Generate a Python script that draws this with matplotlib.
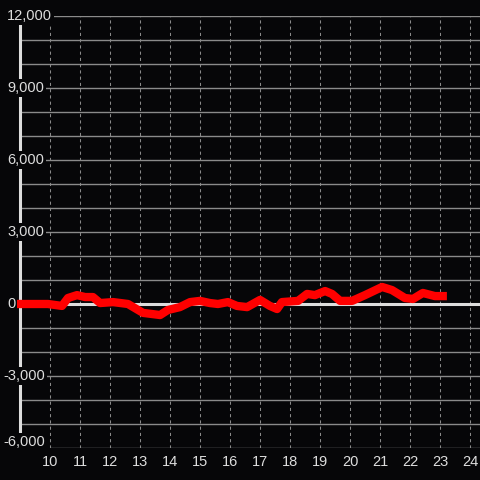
import matplotlib
matplotlib.use("Agg")
import matplotlib.pyplot as plt

# ---- data ----
hours = [8.85, 9.93, 10.4, 10.6, 10.9, 11.17, 11.43, 11.67, 12.1, 12.6, 13.1, 13.67,
         13.93, 14.33, 14.67, 15.0, 15.33, 15.6, 15.93, 16.23, 16.57, 17.0, 17.33,
         17.57, 17.73, 18.27, 18.57, 18.83, 19.17, 19.4, 19.67, 20.07, 20.5, 21.07,
         21.4, 21.83, 22.1, 22.43, 22.83, 23.23]
values = [0, 0, -80, 250, 370, 290, 290, 40, 80, 0, -370, -460,
          -250, -130, 80, 130, 40, 0, 80, -80, -130, 170, -80,
          -210, 80, 130, 420, 370, 540, 420, 130, 130, 370, 710,
          580, 250, 210, 460, 330, 330]
x_ticks = list(range(10, 25))
y_label_values = [12000, 9000, 6000, 3000, 0, -3000, -6000]
y_grid_values = list(range(-6000, 12001, 1000))

BG = "#060608"
GRID = "#8a8a8a"
TXT = "#dddddd"
FONT = "Liberation Sans"

fig = plt.figure(figsize=(4.8, 4.8), dpi=100, facecolor=BG)
ax = fig.add_axes([0, 32 / 480, 1, 432 / 480])
ax.set_facecolor(BG)
x0 = 10 - 50 / 30
x1 = 10 + 430 / 30
ax.set_xlim(x0, x1)
ax.set_ylim(-6000, 12000)
for s in ax.spines.values():
    s.set_visible(False)

# vertical dotted gridlines
ax.vlines(x_ticks, -6000, 12000, colors=GRID, linewidth=0.75,
          linestyles=(0, (3, 3)), zorder=1)
# horizontal gridlines
for v in y_grid_values:
    start = 10 if v == -6000 else 9.0
    ax.hlines(v, start, x1, colors=GRID, linewidth=1.0, zorder=1)
# zero line and left axis line
ax.hlines(0, 9.0, x1, colors=TXT, linewidth=2.2, zorder=2)
ax.vlines(9.0, -6000, 12000, colors=TXT, linewidth=2.2, zorder=2)

# data line
ax.plot(hours, values, color="#ff0000", linewidth=6, solid_capstyle="butt",
        solid_joinstyle="round", zorder=3)

# y labels with background boxes
for v in y_label_values:
    px = 3 if v < 0 else 7
    yv = v + 250 if v == -6000 else v
    ax.text(x0 + px / 30, yv, f"{v:,}", ha="left", va="center", color=TXT,
            fontsize=10.5, family=FONT, zorder=5,
            bbox=dict(facecolor=BG, edgecolor="none", pad=1.5))

# x tick labels
ax.set_xticks(x_ticks)
ax.set_xticklabels([str(t) for t in x_ticks], family=FONT, fontsize=10.5, color=TXT)
ax.tick_params(axis="x", length=0, pad=5)
ax.set_yticks([])

fig.savefig("out.png", dpi=100, facecolor=BG)
